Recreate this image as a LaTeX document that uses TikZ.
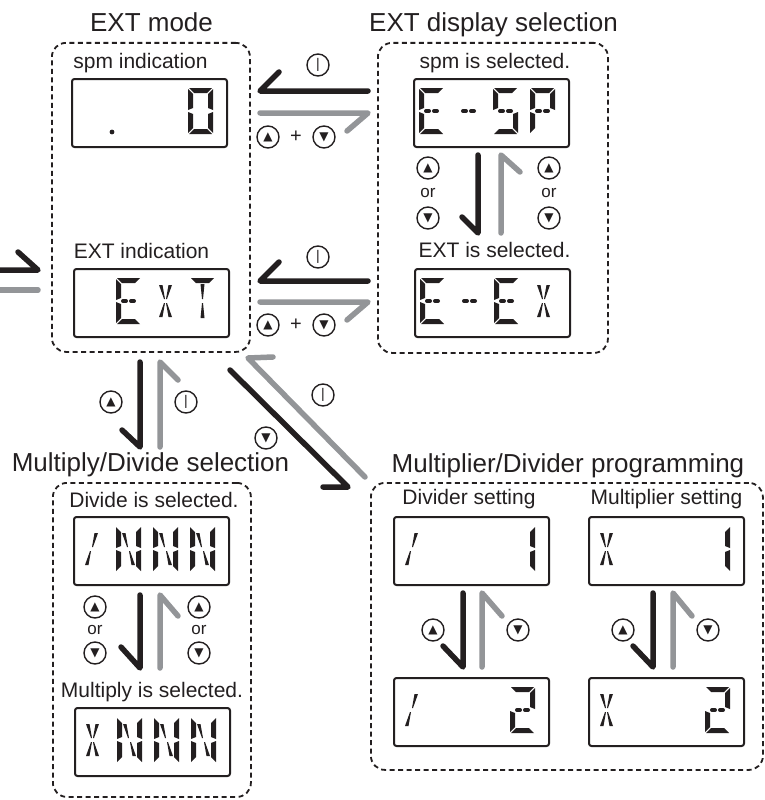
\documentclass[tikz,border=0pt]{standalone}
\usepackage{fontspec}
\setmainfont{Liberation Sans}
\newfontfamily\symf{DejaVu Sans}
\usetikzlibrary{calc}
\definecolor{ink}{HTML}{231F20}
\definecolor{gry}{HTML}{939598}

% LCD segments, digit cell 25 x 46
\newcommand\sga{\fill (1,0) -- (24,0) -- (19,5) -- (6,5) -- cycle;}
\newcommand\sgd{\fill (1,46) -- (24,46) -- (19,41) -- (6,41) -- cycle;}
\newcommand\sgf{\fill (0,1) -- (5,6) -- (5,20) -- (0,22) -- cycle;}
\newcommand\sge{\fill (0,24) -- (5,26) -- (5,40) -- (0,45) -- cycle;}
\newcommand\sgb{\fill (25,1) -- (20,6) -- (20,20) -- (25,22) -- cycle;}
\newcommand\sgc{\fill (25,24) -- (20,26) -- (20,40) -- (25,45) -- cycle;}
\newcommand\sgg{\draw[line width=4pt,line cap=round] (7,23) -- (10,23);}
\newcommand\sgq{\draw[line width=4pt,line cap=round] (15,23) -- (18,23);}
\newcommand\sgh{\fill (6,7) -- (9.5,7) -- (12,21) -- (11,21) -- cycle;}
\newcommand\sgj{\fill (19,7) -- (15.5,7) -- (13,21) -- (14,21) -- cycle;}
\newcommand\sgk{\fill (11,25) -- (12,25) -- (9.5,39) -- (6,39) -- cycle;}
\newcommand\sgm{\fill (13,25) -- (14,25) -- (19,39) -- (15.5,39) -- cycle;}
\newcommand\sgi{\fill (10.5,6) -- (14.5,6) -- (13,21) -- (12,21) -- cycle;}
\newcommand\sgl{\fill (12,25) -- (13,25) -- (14.5,40) -- (10.5,40) -- cycle;}
\newcommand\segs[1]{\foreach \q in {#1} {\csname sg\q\endcsname}}

% characters
\newcommand\chrO{\segs{a,b,c,d,e,f}}
\newcommand\chrE{\segs{a,d,e,f,g,q}}
\newcommand\chrM{\segs{g,q}}
\newcommand\chrS{\segs{a,f,g,q,c,d}}
\newcommand\chrP{\segs{a,b,f,g,q,e}}
\newcommand\chrX{\segs{h,j,k,m}}
\newcommand\chrT{\segs{a,i,l}}
\newcommand\chrN{\segs{b,c,e,f,h,m}}
\newcommand\chrL{\segs{j,k}}
\newcommand\chrI{\segs{b,c}}
\newcommand\chrZ{\segs{a,b,g,q,e,d}}

% display window: name, x, y, pos/char list
\newcommand\lcd[4]{%
  \node[lcdbox,anchor=north west] (#1) at (#2,#3) {};
  \foreach \p/\c in {#4} {
    \begin{scope}[shift={(#2+6+37*\p,#3+10)}]
      \csname chr\c\endcsname
    \end{scope}}}

% half arrow: style, name, start, end, barb
\newcommand\harp[5]{%
  \coordinate (#2s) at (#3); \coordinate (#2e) at (#4);
  \draw[#1] (#2s) -- (#2e) -- ++(#5);}

\newcommand\bup{{\symf\fontsize{12}{12}\selectfont ▲}}
\newcommand\bdn{{\symf\fontsize{12}{12}\selectfont ▼}}
\newcommand\bst{{\fontsize{14}{14}\selectfont |}}

\begin{document}
\begin{tikzpicture}[x=1pt,y=-1pt,ink,
  grp/.style={draw=ink,dash pattern=on 5pt off 3.5pt,line width=1.8pt,rounded corners=14pt},
  lcdbox/.style={draw=ink,line width=2pt,rounded corners=2.5pt,minimum width=155pt,minimum height=68pt,inner sep=0pt},
  ttl/.style={font=\fontsize{26}{30}\selectfont,anchor=base},
  subt/.style={font=\fontsize{21}{25}\selectfont,anchor=base},
  ortx/.style={font=\fontsize{17}{20}\selectfont},
  btn/.style={circle,draw=ink,line width=1.4pt,minimum size=22pt,inner sep=0pt},
  blk/.style={draw=ink,line width=5.5pt,line cap=round,line join=round},
  gy/.style={draw=gry,line width=5.5pt,line cap=round,line join=round}]
  \useasboundingbox (0,0) rectangle (765,800);

  % EXT mode
  \node[grp,minimum width=198pt,minimum height=309pt,anchor=north west] (extmode) at (51,42) {};
  \node[ttl] (extmodet) at (151.5,32) {EXT mode};
  \node[subt] (spmind) at (140.5,68) {spm indication};
  \lcd{lcdspm}{71}{78}{3/O}
  \fill (112,132) circle (2.4);
  \node[subt] (extind) at (141.5,258) {EXT indication};
  \lcd{lcdext}{73}{268}{1/E,2/X,3/T}

  % EXT display selection
  \node[grp,minimum width=230pt,minimum height=310pt,anchor=north west] (extsel) at (377,42) {};
  \node[ttl] (extselt) at (493.5,32) {EXT display selection};
  \node[subt] (spmsel) at (495,68) {spm is selected.};
  \lcd{lcdesp}{413}{78}{0/E,1/M,2/S,3/P}
  \node[subt] (extsl) at (494.5,257) {EXT is selected.};
  \lcd{lcdeex}{414}{268}{0/E,1/M,2/E,3/X}
  \harp{blk}{v1}{478,155}{478,233}{-16,-16}
  \harp{gy}{v2}{501,233}{501,155}{19,17}
  \node[btn] (s1u) at (428,168) {\bup};
  \node[ortx] (s1o) at (428,193) {or};
  \node[btn] (s1d) at (428,218) {\bdn};
  \node[btn] (s2u) at (549,168) {\bup};
  \node[ortx] (s2o) at (549,193) {or};
  \node[btn] (s2d) at (549,218) {\bdn};

  % between EXT mode and display selection
  \harp{blk}{h1}{368,91}{260,91}{19,-19}
  \harp{gy}{h2}{260,113}{368,113}{-21,18}
  \node[btn] (t1s) at (318,65) {\bst};
  \node[btn] (t1u) at (268,137) {\bup};
  \node[font=\fontsize{20}{20}\selectfont] (t1p) at (296,137) {+};
  \node[btn] (t1d) at (324,137) {\bdn};
  \harp{blk}{h3}{368,281}{260,281}{19,-19}
  \harp{gy}{h4}{260,302}{368,302}{-21,18}
  \node[btn] (t2s) at (318,257) {\bst};
  \node[btn] (t2u) at (268,325) {\bup};
  \node[font=\fontsize{20}{20}\selectfont] (t2p) at (296,325) {+};
  \node[btn] (t2d) at (324,325) {\bdn};

  % coming in from the left
  \harp{blk}{e1}{0,270}{38,270}{-20,-18}
  \coordinate (e2s) at (38,290); \coordinate (e2e) at (-4,290);
  \draw[gy] (e2s) -- (e2e);

  % down to Multiply/Divide selection
  \harp{blk}{v3}{140,362}{140,447}{-18,-17}
  \harp{gy}{v4}{160,447}{160,362}{18,18}
  \node[btn] (m1u) at (111,402) {\bup};
  \node[btn] (m1s) at (186,402) {\bst};

  % diagonal to programming
  \harp{blk}{d1}{230,370}{348,487}{-25,0}
  \harp{gy}{d2}{365,477}{248,358}{25,-1}
  \node[btn] (p1s) at (323,395) {\bst};
  \node[btn] (p1d) at (266,438) {\bdn};

  % Multiply/Divide selection
  \node[grp,minimum width=198pt,minimum height=314pt,anchor=north west] (mdsel) at (52,482) {};
  \node[ttl] (mdselt) at (150.5,471) {Multiply/Divide selection};
  \node[subt] (divsel) at (154,507) {Divide is selected.};
  \lcd{lcddiv}{73}{516}{0/L,1/N,2/N,3/N}
  \harp{blk}{v5}{140,595}{140,668}{-19,-21}
  \harp{gy}{v6}{160,668}{160,595}{18,21}
  \node[btn] (s3u) at (95,607) {\bup};
  \node[ortx] (s3o) at (95,630) {or};
  \node[btn] (s3d) at (95,653) {\bdn};
  \node[btn] (s4u) at (199,607) {\bup};
  \node[ortx] (s4o) at (199,630) {or};
  \node[btn] (s4d) at (199,653) {\bdn};
  \node[subt] (mulsel) at (152,697) {Multiply is selected.};
  \lcd{lcdmul}{74}{707}{0/X,1/N,2/N,3/N}

  % Multiplier/Divider programming
  \node[grp,minimum width=392pt,minimum height=287pt,anchor=north west] (mdprog) at (370,482) {};
  \node[ttl] (mdprogt) at (568,472) {Multiplier/Divider programming};
  \node[subt] (divset) at (469,504) {Divider setting};
  \node[subt] (mulset) at (666.5,504) {Multiplier setting};
  \lcd{lcdd1}{393}{516}{0/L,3/I}
  \lcd{lcdm1}{588}{516}{0/X,3/I}
  \lcd{lcdd2}{393}{677}{0/L,3/Z}
  \lcd{lcdm2}{588}{677}{0/X,3/Z}
  \harp{blk}{v7}{463,593}{463,667}{-20,-21}
  \harp{gy}{v8}{482,667}{482,593}{20,23}
  \harp{blk}{v9}{653,593}{653,667}{-20,-21}
  \harp{gy}{v10}{673,667}{673,593}{19,23}
  \node[btn] (q1u) at (433,630) {\bup};
  \node[btn] (q1d) at (518,630) {\bdn};
  \node[btn] (q2u) at (623,630) {\bup};
  \node[btn] (q2d) at (708,630) {\bdn};
\end{tikzpicture}
\end{document}
